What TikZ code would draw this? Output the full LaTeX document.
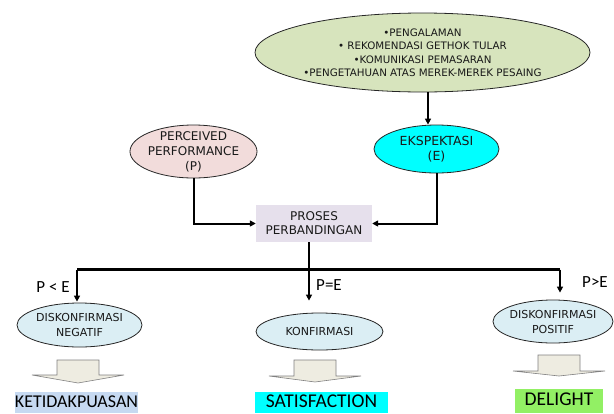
\documentclass[tikz,border=0pt]{standalone}
\usepackage{fontspec}
\setmainfont{DejaVu Sans}
\newfontfamily\calfont{Carlito}
\usepackage{tikz}
\usetikzlibrary{arrows.meta}
\usetikzlibrary{positioning}
\usetikzlibrary{shapes.geometric}

\definecolor{oliveback}{RGB}{215,228,189}
\definecolor{pinkback}{RGB}{242,220,219}
\definecolor{cyanback}{RGB}{0,255,255}
\definecolor{lilacback}{RGB}{230,224,236}
\definecolor{iceback}{RGB}{219,238,244}
\definecolor{beigeback}{RGB}{238,236,225}
\definecolor{blueback}{RGB}{198,217,241}
\definecolor{greenback}{RGB}{146,240,100}

\tikzset{
  bubble/.style={ellipse, draw=black!85, line width=0.8pt, inner sep=-12pt,
    align=center, text=black!90, font=\fontsize{12}{15}\selectfont},
  procbox/.style={rectangle, fill=lilacback, inner sep=0pt, align=center,
    text=black!90, font=\fontsize{12}{14}\selectfont},
  resultbox/.style={rectangle, anchor=north, inner sep=0pt, text height=15.5pt,
    text depth=5.5pt, font=\calfont\fontsize{19.5}{20}\selectfont},
  condlabel/.style={inner sep=0pt, font=\calfont\fontsize{17}{17}\selectfont},
  link/.style={line width=2pt, -{Triangle[length=6pt,width=6pt]}},
  bigarrow/.style={draw=black!50, line width=0.6pt, fill=beigeback},
}

\begin{document}
\begin{tikzpicture}[x=1pt, y=-1pt]
    \useasboundingbox (0,0) rectangle (614,413);

    % sumber ekspektasi
    \node[bubble, fill=oliveback, minimum width=335pt, minimum height=79pt,
      font=\fontsize{10.3}{13.5}\selectfont] (sumber) at (422.5,52.5)
      {•PENGALAMAN\\ • REKOMENDASI GETHOK TULAR\\ •KOMUNIKASI PEMASARAN\\
       •PENGETAHUAN ATAS MEREK-MEREK PESAING};

    \node[bubble, fill=pinkback, minimum width=127pt, minimum height=53pt]
      (perf) at (193.5,151.5) {PERCEIVED\\ PERFORMANCE\\ (P)};
    \node[bubble, fill=cyanback, minimum width=125pt, minimum height=48pt,
      font=\fontsize{12.5}{15}\selectfont]
      (ekspek) at (436.5,149) {EKSPEKTASI\\ (E)};

    \node[procbox, minimum width=116pt, minimum height=37pt] (proses)
      at (314,223.5) {PROSES\\ PERBANDINGAN};

    % hasil perbandingan
    \node[bubble, fill=iceback, minimum width=125pt, minimum height=44pt,
      font=\fontsize{11}{15}\selectfont] (negatif) at (79.5,325)
      {DISKONFIRMASI\\ NEGATIF};
    \node[bubble, fill=iceback, minimum width=127pt, minimum height=37pt,
      font=\fontsize{11}{15}\selectfont] (konfirm) at (319.5,331.5)
      {KONFIRMASI};
    \node[bubble, fill=iceback, minimum width=120pt, minimum height=43pt,
      font=\fontsize{11}{15}\selectfont] (positif) at (553,321.5)
      {DISKONFIRMASI\\ POSITIF};

    \coordinate (busL) at (77,269.5);
    \coordinate (busM) at (309,269.5);
    \coordinate (busR) at (560,269.5);

    \draw[link] ([xshift=5.5pt]sumber.south) -- ([xshift=5.5pt]sumber.south |- ekspek.north);
    \draw[link] (perf.south) |- (proses.west);
    \draw[link] (ekspek.south) |- (proses.east);
    \draw[line width=2pt] (busM |- proses.south) -- (busM);
    \draw[line width=3pt] (busL) -- (busR);

    \draw[link, shorten >=1pt] (busL) -- (busL |- negatif.north);
    \draw[link, shorten >=12pt] (busM) -- (busM |- konfirm.north);
    \draw[link, shorten >=7pt] (busR) -- (busR |- positif.north);

    \node[condlabel] (pkecil) at (53,287) {P < E};
    \node[condlabel] (psama) at (329,285) {P=E};
    \node[condlabel] (pbesar) at (595,282) {P>E};

    % panah blok
    \foreach \x/\t/\h/\b in {78/360/375/383, 315/360/376/382, 559/355/371/376}
      \draw[bigarrow] ({\x-21},\t) -- ({\x+21},\t) -- ({\x+21},\h) -- ({\x+46},\h)
        -- (\x,\b) -- ({\x-46},\h) -- ({\x-21},\h) -- cycle;

    \node[resultbox, fill=blueback, minimum width=123pt,
      font=\calfont\fontsize{18}{18}\selectfont] (tidakpuas)
      at (76.5,392) {KETIDAKPUASAN};
    \node[resultbox, fill=cyanback, minimum width=133pt] (puas)
      at (321.5,392) {SATISFACTION};
    \node[resultbox, fill=greenback, minimum width=88pt, text height=16.5pt,
      text depth=7.5pt] (senang) at (559,389) {DELIGHT};
\end{tikzpicture}
\end{document}
